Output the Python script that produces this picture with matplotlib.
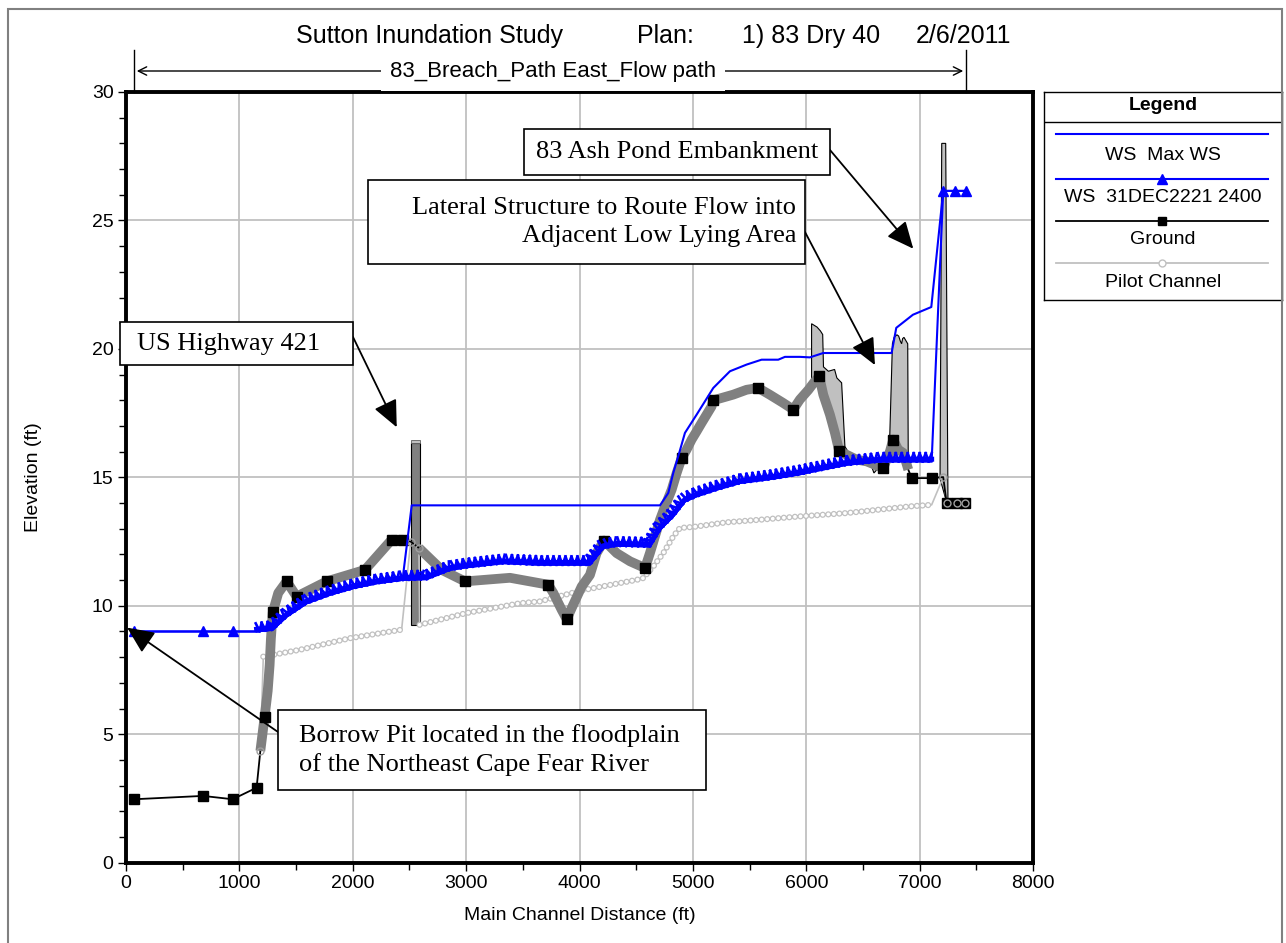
import matplotlib
matplotlib.use('Agg')
import matplotlib.pyplot as plt
import matplotlib.patheffects as pe
from matplotlib.patches import Rectangle, Polygon, FancyArrowPatch
from matplotlib.lines import Line2D
from matplotlib.ticker import MultipleLocator

W, H = 1286, 943

# ---- profile data (ft) ----
ws_max_x = [73, 679, 941, 1152, 1294, 1417, 1594, 1799, 2005, 2211, 2439, 2520, 4710, 4783, 4827,
            4871, 4930, 5033, 5180, 5327, 5474, 5606, 5753, 5812, 5944, 6032, 6150, 6753, 6794,
            6941, 7103, 7208, 7312, 7407]
ws_max_y = [9.0, 9.0, 9.0, 9.0, 9.07, 9.58, 10.1, 10.43, 10.69, 10.88, 11.01, 13.91, 13.91, 14.39, 15.17,
            15.82, 16.73, 17.44, 18.48, 19.13, 19.39, 19.58, 19.58, 19.69, 19.69, 19.67, 19.84, 19.84, 20.82,
            21.33, 21.63, 26.15, 26.15, 26.15]

ws_x = [73, 679, 941, 1152, 1294, 1417, 1594, 1799, 2005, 2211, 2439, 2652, 2858, 3005, 3328, 3651,
        4092, 4210, 4328, 4621, 4710, 4827, 4930, 5033, 5210, 5415, 5709, 5944, 6062, 6356, 6650,
        6944, 7106, 7208, 7312, 7407]
ws_y = [9.0, 9.0, 9.0, 9.0, 9.07, 9.58, 10.1, 10.43, 10.69, 10.88, 11.01, 11.04, 11.4, 11.5, 11.66, 11.6,
        11.6, 12.25, 12.34, 12.31, 12.96, 13.48, 14.06, 14.26, 14.52, 14.78, 14.95, 15.12, 15.23, 15.49, 15.62,
        15.62, 15.62, 26.15, 26.15, 26.15]

ground_x = [73, 679, 941, 1152, 1185, 1223, 1250, 1267, 1278, 1294, 1343, 1417, 1505, 1770, 2108,
            2343, 2446, 2511, 2584, 2784, 2990, 3387, 3725, 3769, 3843, 3887, 3931, 4019, 4092, 4151,
            4216, 4328, 4446, 4578, 4621, 4710, 4754, 4813, 4857, 4901, 4945, 4989, 5033, 5077, 5121,
            5165, 5180, 5253, 5356, 5474, 5576, 5677, 5795, 5885, 5944, 6018, 6076, 6115, 6150, 6209,
            6253, 6291, 6356, 6444, 6533, 6679, 6738, 6767, 6811, 6856, 6900, 6930, 7106, 7208, 7238,
            7326, 7400]
ground_y = [2.47, 2.6, 2.47, 2.92, 4.35, 5.69, 6.69, 7.7, 8.71, 9.74, 10.5, 10.95, 10.36, 10.95, 11.4,
            12.57, 12.57, 12.5, 12.25, 11.4, 10.95, 11.09, 10.82, 10.5, 9.84, 9.48, 9.91, 10.75, 11.2, 12.05,
            12.54, 12.05, 11.73, 11.47, 12.05, 13.35, 13.87, 14.52, 15.17, 15.75, 16.08, 16.47, 16.79, 17.12, 17.44,
            17.76, 18.0, 18.09, 18.22, 18.41, 18.48, 18.22, 17.9, 17.64, 18.03, 18.4, 18.74, 18.93, 18.22, 17.44,
            16.73, 16.01, 15.88, 15.69, 15.62, 15.36, 16.01, 16.47, 16.08, 15.95, 15.3, 14.97, 14.97, 15.01, 14.0,
            14.0, 14.0]
# stations drawn with black squares
ground_sections = [73, 679, 941, 1152, 1223, 1294, 1417, 1505, 1770, 2108, 2343, 2446, 2990, 3725, 3887,
                   4216, 4578, 4901, 5180, 5576, 5885, 6115, 6291, 6679, 6767, 6930, 7106, 7238, 7326, 7400]

pilot_x = [1185, 1211, 1535, 1976, 2431, 2511, 2584, 2590, 3005, 3475, 3651, 4019, 4504, 4563, 4651,
           4739, 4827, 4886, 5004, 5297, 5591, 5944, 6356, 6915, 7106, 7208, 7238, 7326, 7400]
pilot_y = [4.35, 8.02, 8.29, 8.74, 9.07, 12.5, 12.25, 9.26, 9.72, 10.1, 10.17, 10.6, 11.01, 11.08, 11.53,
           12.05, 12.7, 13.03, 13.07, 13.25, 13.35, 13.48, 13.61, 13.87, 13.93, 15.0, 14.0, 14.0, 14.0]

# structures
bridge_x = [2511, 2593, 2593, 2511]
bridge_y = [9.25, 9.25, 16.33, 16.33]
lat1_x = [6047, 6095, 6125, 6145, 6152, 6195, 6250, 6270, 6312, 6341, 6385, 6450, 6576, 6597, 6635, 6680,
          6679, 6533, 6444, 6356, 6291, 6253, 6209, 6150, 6115, 6076, 6047]
lat1_y = [20.98, 20.85, 20.7, 20.56, 19.3, 19.13, 19.2, 18.87, 18.68, 16.2, 15.88, 15.7, 15.43, 15.17, 15.36, 15.5,
          15.36, 15.62, 15.69, 15.88, 16.01, 16.73, 17.44, 18.22, 18.93, 18.74, 18.6]
lat2_x = [6730, 6760, 6775, 6800, 6815, 6830, 6841, 6850, 6862, 6875, 6895, 6900, 6856, 6811, 6767, 6738]
lat2_y = [15.6, 20.2, 20.45, 20.55, 20.5, 20.3, 20.2, 20.4, 20.45, 20.35, 20.2, 15.4, 15.95, 16.08, 16.47, 16.01]
emb_x = [7180, 7195, 7230, 7250, 7240]
emb_y = [14.95, 28.0, 28.0, 14.0, 14.0]

def fx(px):
    return px / W

def fy(py):
    return 1 - py / H

plt.rcParams['lines.scale_dashes'] = False
fig = plt.figure(figsize=(W / 100, H / 100), dpi=100)
plt.rcParams['font.family'] = ['Liberation Sans', 'DejaVu Sans']
ax = fig.add_axes([fx(126), fy(862.7), (1033 - 126) / W, (862.7 - 92) / H])
ax.set_xlim(0, 8000)
ax.set_ylim(0, 30)

ax.xaxis.set_major_locator(MultipleLocator(1000))
ax.xaxis.set_minor_locator(MultipleLocator(500))
ax.yaxis.set_major_locator(MultipleLocator(5))
ax.yaxis.set_minor_locator(MultipleLocator(1))
ax.grid(True, which='major', color='#c0c0c0', lw=1.3)
ax.set_axisbelow(True)
ax.tick_params(which='major', direction='out', length=6, width=1, labelsize=14, pad=3)
ax.tick_params(which='minor', direction='out', length=5, width=1)
for s in ax.spines.values():
    s.set_linewidth(2.8)

# structures
ax.add_patch(Polygon(list(zip(bridge_x, bridge_y)), closed=True, fc='#808080', ec='black', lw=0.8, zorder=2))
ax.add_patch(Rectangle((2511, 16.33), 82, 0.14, fc='#c0c0c0', ec='#606060', lw=0.6, zorder=2))
ax.add_patch(Polygon(list(zip(lat1_x, lat1_y)), closed=True, fc='#c0c0c0', ec='black', lw=0.8, zorder=2))
ax.add_patch(Polygon(list(zip(lat2_x, lat2_y)), closed=True, fc='#c0c0c0', ec='black', lw=0.8, zorder=2))
ax.add_patch(Polygon(list(zip(emb_x, emb_y)), closed=True, fc='#c0c0c0', ec='black', lw=0.8, zorder=2))

# pilot channel: thin line, rings drawn as round-capped dots along the interpolated reaches
ax.plot(pilot_x, pilot_y, color='#c0c0c0', lw=1.2, zorder=3)
for a, b in [(1, 5), (7, 25)]:
    ax.plot(pilot_x[a:b], pilot_y[a:b], color='#c0c0c0', lw=4.5, dashes=(0.01, 4.0),
            dash_capstyle='round', zorder=3.1)
    ax.plot(pilot_x[a:b], pilot_y[a:b], color='white', lw=2.7, dashes=(0.01, 4.0),
            dash_capstyle='round', zorder=3.2)

# ground
sec_idx = [ground_x.index(s) for s in ground_sections]
ax.plot(ground_x, ground_y, color='black', lw=1.3, zorder=4)
for a, b in [(1185, 2446), (2584, 6900)]:
    i0, i1 = ground_x.index(a), ground_x.index(b)
    ax.plot(ground_x[i0:i1 + 1], ground_y[i0:i1 + 1], color='#808080', lw=7, solid_capstyle='butt',
            solid_joinstyle='round', zorder=5)
ax.plot(ground_x, ground_y, ls='none', marker='s', ms=7, color='black', markevery=sec_idx, zorder=5.5)

# pilot circles at the special stations
ax.plot(pilot_x, pilot_y, ls='none', marker='o', ms=5, mfc='none', mec='#a0a0a0', mew=1,
        markevery=[0, 5, 6, 25, 26, 27, 28], zorder=6)

# water surfaces
j = ws_x.index(1152)
k = ws_x.index(7106)
ax.plot(ws_x, ws_y, color='#0000ff', lw=1.5, zorder=7)
ax.plot(ws_x, ws_y, ls='none', marker='^', ms=7, color='#0000ff', markevery=[0, 1, 2, 33, 34, 35], zorder=7)
teeth = [pe.Stroke(offset=(0, 1.6), linewidth=3.6, foreground='#0000ff'),
         pe.TickedStroke(spacing=4.3, angle=70, length=1.46, linewidth=1.9, foreground='#0000ff'),
         pe.TickedStroke(spacing=4.3, angle=110, length=1.46, linewidth=1.9, foreground='#0000ff'),
         pe.Normal()]
ax.plot(ws_x[j:k + 1], ws_y[j:k + 1], color='#0000ff', lw=1.5, zorder=7, path_effects=teeth)
ax.plot(ws_max_x, ws_max_y, color='#0000ff', lw=1.5, zorder=8)

# axis labels
fig.text(fx(33), fy(477), 'Elevation (ft)', rotation=90, ha='center', va='center', fontsize=14)
fig.text(fx(580), fy(915), 'Main Channel Distance (ft)', ha='center', va='center', fontsize=14)

# titles
for px, s in [(296, 'Sutton Inundation Study'), (637, 'Plan:'), (742, '1) 83 Dry 40'), (916, '2/6/2011')]:
    fig.text(fx(px), fy(36), s, ha='left', va='center', fontsize=18)
fig.add_artist(Line2D([fx(134), fx(134)], [fy(50), fy(92)], transform=fig.transFigure, color='black', lw=1))
fig.add_artist(Line2D([fx(966), fx(966)], [fy(50), fy(92)], transform=fig.transFigure, color='black', lw=1))
fig.add_artist(FancyArrowPatch((fx(134), fy(71)), (fx(966), fy(71)), transform=fig.transFigure,
                               arrowstyle='<->,head_length=6,head_width=3', color='black', lw=1))
fig.text(fx(553), fy(72), '83_Breach_Path East_Flow path', ha='center', va='center', fontsize=16,
         bbox=dict(fc='white', ec='none', pad=6))

# figure frame
fig.add_artist(Rectangle((fx(8), -0.02), fx(1282) - fx(8), fy(9) + 0.02, transform=fig.transFigure,
                         fill=False, ec='#808080', lw=1.5))

# annotation boxes
serif = ['Liberation Serif', 'DejaVu Serif']

def box(x0, y0, x1, y1):
    fig.add_artist(Rectangle((fx(x0), fy(y1)), fx(x1) - fx(x0), fy(y0) - fy(y1), transform=fig.transFigure,
                             fc='white', ec='black', lw=1.2, zorder=10))

def arrow(tip, start):
    ax.annotate('', xy=tip, xycoords='data', xytext=(start[0], H - start[1]), textcoords='figure pixels',
                arrowprops=dict(arrowstyle='-|>,head_length=0.55,head_width=0.25', color='black', lw=1.3,
                                mutation_scale=30, shrinkA=0, shrinkB=0),
                annotation_clip=False, zorder=9)

arrow((6944, 23.9), (830, 150))
arrow((6606, 19.37), (805, 232))
arrow((2388, 16.95), (353, 337))
arrow((10, 9.15), (278, 732))

fig.text(fx(818), fy(152), '83 Ash Pond Embankment', ha='right', va='center', fontsize=19, family=serif,
         zorder=11, bbox=dict(boxstyle='square,pad=0.45', fc='white', ec='black', lw=1.2))
box(368, 180, 805, 264)
fig.text(fx(796), fy(222), 'Lateral Structure to Route Flow into\nAdjacent Low Lying Area', ha='right',
         va='center', multialignment='right', fontsize=19, family=serif, linespacing=1.35, zorder=11)
box(120, 322, 353, 365)
fig.text(fx(137), fy(344), 'US Highway 421', ha='left', va='center', fontsize=19, family=serif, zorder=11)
box(278, 710, 706, 790)
fig.text(fx(299), fy(750), 'Borrow Pit located in the floodplain\nof the Northeast Cape Fear River', ha='left',
         va='center', fontsize=19, family=serif, linespacing=1.3, zorder=11)

# legend
lg = fig.add_axes([fx(1044), fy(300), fx(1282) - fx(1044), (300 - 92) / H])
lg.set_xlim(0, 238)
lg.set_ylim(208, 0)
lg.set_xticks([])
lg.set_yticks([])
for s in lg.spines.values():
    s.set_linewidth(1)
lg.axhline(30, color='black', lw=1)
lg.text(119, 14, 'Legend', ha='center', va='center', fontsize=14, fontweight='bold')
lg.plot([12, 224], [42.3, 42.3], color='#0000ff', lw=1.5)
lg.text(119, 63, 'WS  Max WS', ha='center', va='center', fontsize=14)
lg.plot([12, 118, 224], [87, 87, 87], color='#0000ff', lw=1.5, marker='^', ms=7, markevery=[1])
lg.text(119, 105.3, 'WS  31DEC2221 2400', ha='center', va='center', fontsize=14)
lg.plot([12, 118, 224], [129, 129, 129], color='black', lw=1.3, marker='s', ms=6, markevery=[1])
lg.text(119, 147.3, 'Ground', ha='center', va='center', fontsize=14)
lg.plot([12, 118, 224], [171.3, 171.3, 171.3], color='#c0c0c0', lw=1.3, marker='o', ms=5, mfc='white',
        markevery=[1])
lg.text(119, 190.7, 'Pilot Channel', ha='center', va='center', fontsize=14)

fig.savefig('out.png', dpi=100)
